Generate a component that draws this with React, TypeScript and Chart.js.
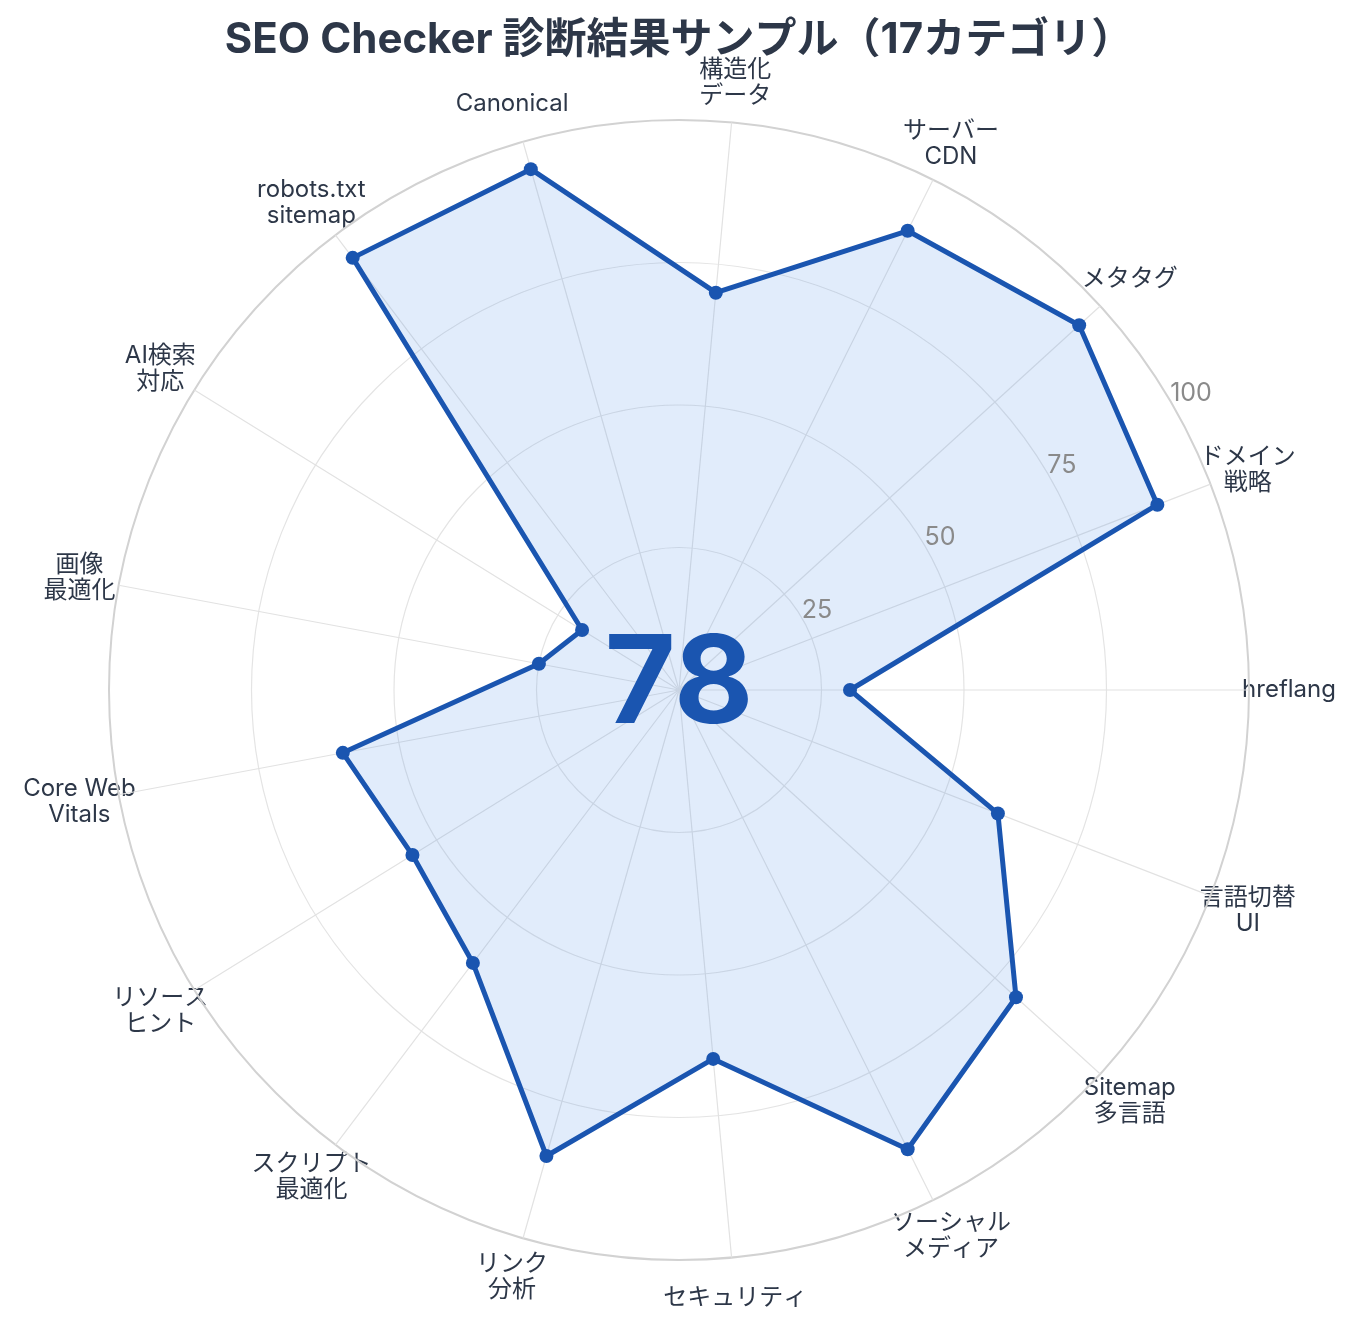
import React, { useEffect, useRef } from "react";
import { Chart, registerables } from "chart.js";

Chart.register(...registerables);

// Categories in drawing order (clockwise from the right-hand axis)
const categories: string[][] = [
  ["hreflang"],
  ["言語切替", "UI"],
  ["Sitemap", "多言語"],
  ["ソーシャル", "メディア"],
  ["セキュリティ"],
  ["リンク", "分析"],
  ["スクリプト", "最適化"],
  ["リソース", "ヒント"],
  ["Core Web", "Vitals"],
  ["画像", "最適化"],
  ["AI検索", "対応"],
  ["robots.txt", "sitemap"],
  ["Canonical"],
  ["構造化", "データ"],
  ["サーバー", "CDN"],
  ["メタタグ"],
  ["ドメイン", "戦略"],
];
const scores: number[] = [30, 60, 80, 90, 65, 85, 60, 55, 60, 25, 20, 95, 95, 70, 90, 95, 90];
const tickValues: number[] = [25, 50, 75, 100];
const overallScore = "78";
const titleText = "SEO Checker 診断結果サンプル（17カテゴリ）";

const BLUE = "#1a55b0";
const TEXT = "#2d3748";
const FONT = "Inter, 'Noto Sans CJK JP', 'DejaVu Sans', sans-serif";

const overlayPlugin = {
  id: "overlay",
  beforeDraw(chart: any) {
    const ctx = chart.ctx;
    const scale = chart.scales.r;
    ctx.save();
    // title
    ctx.fillStyle = TEXT;
    ctx.font = `bold 42px ${FONT}`;
    ctx.textAlign = "center";
    ctx.textBaseline = "alphabetic";
    ctx.fillText(titleText, 679, 53);
    // category labels
    ctx.font = `24px ${FONT}`;
    ctx.textBaseline = "middle";
    const lh = 26;
    categories.forEach((lines, i) => {
      const p = scale.getPointPosition(i, scale.drawingArea * (610 / 570));
      const y0 = p.y - ((lines.length - 1) * lh) / 2;
      lines.forEach((ln, k) => ctx.fillText(ln, p.x, y0 + k * lh));
    });
    ctx.restore();
  },
  afterDatasetsDraw(chart: any) {
    const ctx = chart.ctx;
    const scale = chart.scales.r;
    ctx.save();
    // radial tick labels
    ctx.fillStyle = "#8a8a8a";
    ctx.font = `25px ${FONT}`;
    ctx.textAlign = "left";
    ctx.textBaseline = "alphabetic";
    const ang = (-30.5 * Math.PI) / 180;
    tickValues.forEach((v) => {
      const d = scale.getDistanceFromCenterForValue(v);
      ctx.fillText(String(v), scale.xCenter + Math.cos(ang) * d, scale.yCenter + Math.sin(ang) * d);
    });
    // center score
    ctx.fillStyle = BLUE;
    ctx.font = `bold 122px ${FONT}`;
    ctx.textAlign = "center";
    ctx.fillText(overallScore, scale.xCenter, 723);
    ctx.restore();
  },
};

export default function App() {
  const ref = useRef<HTMLCanvasElement | null>(null);
  useEffect(() => {
    if (!ref.current) return;
    const chart = new Chart(ref.current, {
      type: "radar",
      data: {
        labels: categories.map((c) => c.join(" ")),
        datasets: [
          {
            data: scores,
            borderColor: BLUE,
            backgroundColor: "rgba(80,145,230,0.17)",
            borderWidth: 5,
            borderJoinStyle: "round",
            pointRadius: 7,
            pointBackgroundColor: BLUE,
            pointBorderColor: BLUE,
            pointBorderWidth: 0,
            fill: true,
          },
        ],
      },
      options: {
        responsive: false,
        animation: false,
        devicePixelRatio: 1,
        layout: { padding: { left: 109, right: 108, top: 120, bottom: 68 } },
        plugins: {
          legend: { display: false },
          tooltip: { enabled: false },
          title: { display: false },
        },
        scales: {
          r: {
            min: 0,
            max: 100,
            startAngle: 90,
            ticks: { display: false, stepSize: 25 },
            pointLabels: { display: false },
            grid: {
              circular: true,
              color: (c: any) => (c.tick && c.tick.value === 100 ? "#d2d2d2" : "#e4e4e4"),
              lineWidth: (c: any) => (c.tick && c.tick.value === 100 ? 2 : 1.2),
            },
            angleLines: { color: "#e2e2e2", lineWidth: 1.2 },
          },
        },
      },
      plugins: [overlayPlugin],
    } as any);
    return () => chart.destroy();
  }, []);
  return (
    <div style={{ position: "fixed", left: 0, top: 0, width: 1357, height: 1328, background: "#fff" }}>
      <canvas ref={ref} width={1357} height={1328} style={{ display: "block" }} />
    </div>
  );
}
